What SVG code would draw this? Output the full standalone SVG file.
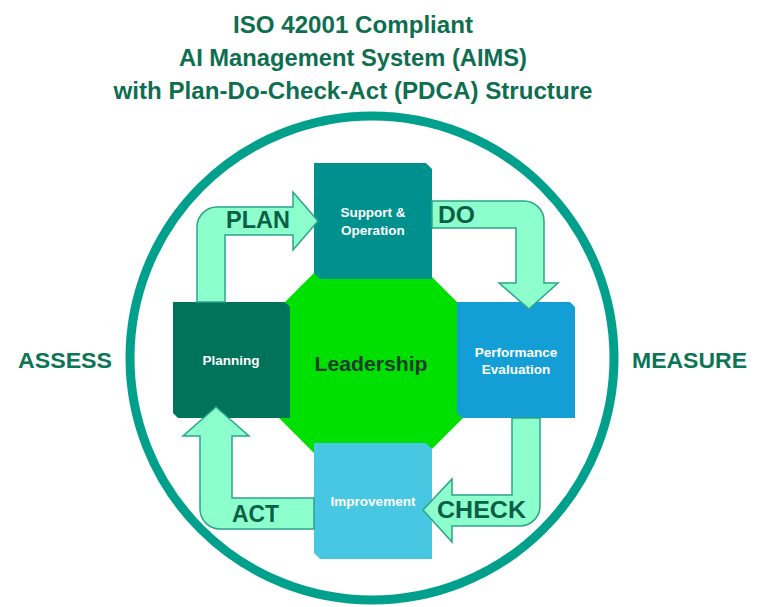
<svg xmlns="http://www.w3.org/2000/svg" width="768" height="607" viewBox="0 0 768 607">
<style>
.title{font-family:"Liberation Sans",Arial,sans-serif;font-weight:bold;font-size:23px;fill:#0E6E50;text-anchor:middle}
.side{font-family:"Liberation Sans",Arial,sans-serif;font-weight:bold;font-size:22px;fill:#0B7556}
.box{font-family:"Liberation Sans",Arial,sans-serif;font-weight:bold;font-size:13.5px;fill:#FFFFFF;text-anchor:middle}
.lead{font-family:"Liberation Sans",Arial,sans-serif;font-weight:bold;font-size:21px;fill:#1B3D2C;text-anchor:middle}
.albl{font-family:"Liberation Sans",Arial,sans-serif;font-weight:bold;font-size:23px;fill:#0B5E48}
.arrow{fill:#8CFFCC;stroke:#2AA58A;stroke-width:1.5;stroke-linejoin:miter}
</style>
<rect width="768" height="607" fill="#FFFFFF"/>
<g id="title">
<text class="title" x="353" y="33" textLength="240" lengthAdjust="spacingAndGlyphs">ISO 42001 Compliant</text>
<text class="title" x="353" y="66" textLength="348" lengthAdjust="spacingAndGlyphs">AI Management System (AIMS)</text>
<text class="title" x="353" y="99" textLength="479" lengthAdjust="spacingAndGlyphs">with Plan-Do-Check-Act (PDCA) Structure</text>
</g>
<g id="ring">
<circle cx="372" cy="358" r="242" fill="none" stroke="#00A08C" stroke-width="9"/>
</g>
<g id="assess"><text class="side" x="18" y="368" textLength="94" lengthAdjust="spacingAndGlyphs">ASSESS</text></g>
<g id="measure"><text class="side" x="632" y="368" textLength="115" lengthAdjust="spacingAndGlyphs">MEASURE</text></g>
<g id="leadership">
<polygon points="328,259 414,259 475,320 475,406 414,467 328,467 267,406 267,320" fill="#00E000"/>
<text class="lead" x="371" y="371" textLength="113" lengthAdjust="spacingAndGlyphs">Leadership</text>
</g>
<g id="support">
<polygon points="314,163 426,163 432,169 432,279 320,279 314,273" fill="#00918F"/>
<text class="box" x="373" y="217">Support &amp;</text>
<text class="box" x="373" y="235">Operation</text>
</g>
<g id="planning">
<polygon points="173,302 285,302 290,307 290,418 178,418 173,413" fill="#00735A"/>
<text class="box" x="231" y="365">Planning</text>
</g>
<g id="performance">
<polygon points="457,302 570,302 575,307 575,418 462,418 457,413" fill="#139FD6"/>
<text class="box" x="516" y="357">Performance</text>
<text class="box" x="516" y="374">Evaluation</text>
</g>
<g id="improvement">
<polygon points="314,443 426,443 432,449 432,559 320,559 314,553" fill="#48C7E2"/>
<text class="box" x="373" y="506">Improvement</text>
</g>
<g id="connectors">
<path class="arrow" d="M197,302 V227 A20,20 0 0 1 217,207 H293 V192 L318,221 L293,250 V235 H225 V302 Z"/>
<path class="arrow" d="M432,201 H524 A20,20 0 0 1 544,221 V283 H558 L529,309 L499,283 H516 V228 H432 Z"/>
<path class="arrow" d="M512,418 V495 H452 V479 L423,510 L452,542 V526 H520 A20,20 0 0 0 540,506 V418 Z"/>
<path class="arrow" d="M314,498 H232 V436 H249 L216,407 L183,436 H200 V509 A20,20 0 0 0 220,529 H314 Z"/>
<text class="albl" x="226" y="228" textLength="64" lengthAdjust="spacingAndGlyphs">PLAN</text>
<text class="albl" x="438" y="223" textLength="37" lengthAdjust="spacingAndGlyphs">DO</text>
<text class="albl" x="437" y="518" textLength="89" lengthAdjust="spacingAndGlyphs">CHECK</text>
<text class="albl" x="232" y="522" textLength="47" lengthAdjust="spacingAndGlyphs">ACT</text>
</g>
</svg>
